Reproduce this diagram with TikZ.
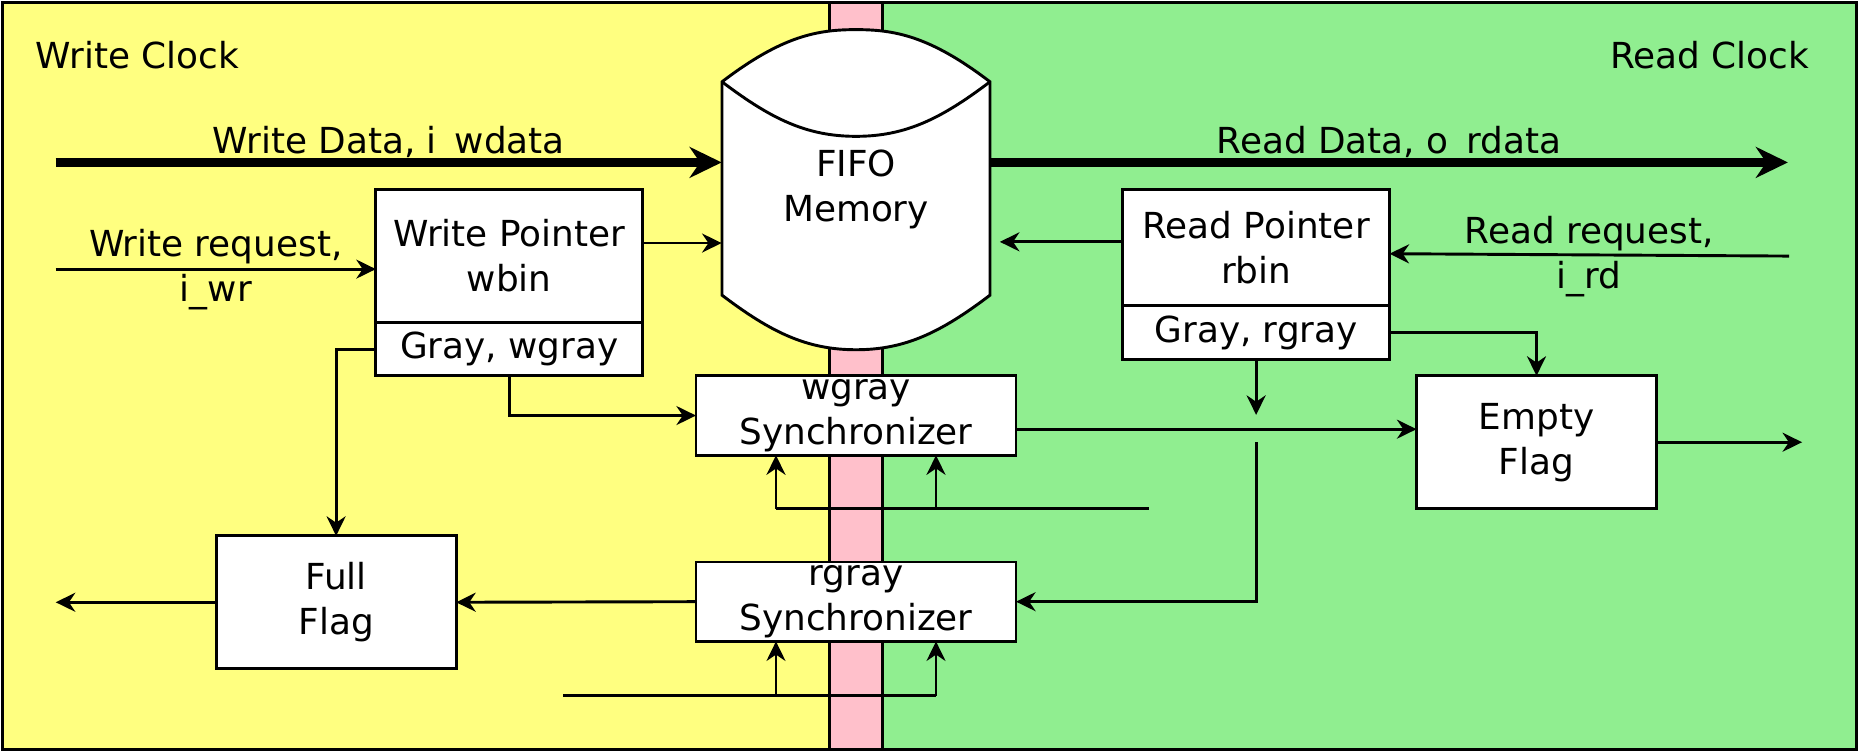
\documentclass[tikz,border=0pt]{standalone}
\usepackage{fontspec}
\setmainfont{DejaVu Sans}
\usetikzlibrary{arrows.meta,calc,positioning}
\definecolor{WriteYellow}{HTML}{FFFF80}
\definecolor{ReadGreen}{HTML}{90EE90}
\definecolor{CrossPink}{HTML}{FFC0CB}
\tikzset{
  domainedge/.style={draw=black,line width=1.4pt},
  blockbox/.style={draw=black,fill=white,line width=1.4pt,align=center,inner sep=0pt,outer sep=0pt,minimum width=4.5cm},
  syncbox/.style={blockbox,minimum width=5.4cm,minimum height=1.34cm},
  flagbox/.style={blockbox,minimum width=4.05cm,minimum height=2.24cm},
  plainlabel/.style={inner sep=0pt},
  buslabel/.style={anchor=base,inner sep=0pt},
  wire/.style={line width=1.4pt},
  sig/.style={line width=1.4pt,-{Stealth[length=0.33cm,width=0.32cm]}},
  databus/.style={line width=4.2pt,-{Stealth[length=0.54cm,width=0.52cm]}}
}
\begin{document}
\begin{tikzpicture}[x=0.02cm,y=-0.02cm,every node/.style={font=\fontsize{17.2pt}{21.6pt}\selectfont}]
  \useasboundingbox (0,0) rectangle (1568,634);
  % clock domains
  \fill[WriteYellow] (2,2) rectangle (700,632);
  \fill[ReadGreen] (744,2) rectangle (1566,632);
  \draw[domainedge,fill=CrossPink] (700,2) rectangle (744,632);
  \draw[domainedge] (2,2) rectangle (1566,632);
  \node[plainlabel,anchor=base west] (wclk) at (30,57.6) {Write Clock};
  \node[plainlabel,anchor=base east] (rclk) at (1526,57.6) {Read Clock};

  % memory
  \draw[line width=1.4pt,fill=white] (609,69) .. controls (660,30) and (690,25) .. (722,25)
    .. controls (754,25) and (784,30) .. (835,69) -- (835,249)
    .. controls (794,280) and (764,295) .. (722,295)
    .. controls (680,295) and (650,280) .. (609,249) -- cycle;
  \draw[line width=1.4pt] (609,69) .. controls (650,100) and (680,115) .. (722,115)
    .. controls (764,115) and (794,100) .. (835,69);
  \node[plainlabel,minimum width=4.52cm,minimum height=5.4cm,align=center] (fifo) at (722,160) {FIFO\\Memory};

  % blocks
  \node[blockbox,minimum height=2.24cm] (wptr) at (429.5,216) {Write Pointer\\wbin};
  \node[blockbox,minimum height=0.9cm,below=0pt of wptr] (wgray) {Gray, wgray};
  \node[blockbox,minimum height=1.96cm] (rptr) at (1059.5,209) {Read Pointer\\rbin};
  \node[blockbox,minimum height=0.9cm,below=0pt of rptr] (rgray) {Gray, rgray};
  \node[syncbox] (wsync) at (722,350.5) {wgray\\Synchronizer};
  \node[syncbox] (rsync) at (722,507.5) {rgray\\Synchronizer};
  \node[flagbox] (full) at (283.5,508) {Full\\Flag};
  \node[flagbox] (empty) at (1296,373) {Empty\\Flag};

  % free ends
  \coordinate (wdin) at (47,137);
  \coordinate (rdout) at (1508,137);
  \coordinate (wreqin) at (47,227);
  \coordinate (rreqin) at (1509,216);
  \coordinate (fullout) at (47,508);
  \coordinate (emptyout) at (1520,373);
  \coordinate (rgraytap) at (1059.5,350);
  \coordinate (rgrayfeed) at (1059.5,373);
  \coordinate (wsyncclk) at (969,429);
  \coordinate (rsyncclk) at (475,587);
  \coordinate (wsynca) at ($(wsync.south west)!0.25!(wsync.south east)$);
  \coordinate (wsyncb) at ($(wsync.south west)!0.75!(wsync.south east)$);
  \coordinate (rsynca) at ($(rsync.south west)!0.25!(rsync.south east)$);
  \coordinate (rsyncb) at ($(rsync.south west)!0.75!(rsync.south east)$);

  % data paths
  \draw[databus] (wdin) -- (wdin -| fifo.west)
    node[buslabel,midway,yshift=4.5pt] (wdatalbl) {Write Data, i\_wdata};
  \draw[databus] (fifo.east |- rdout) -- (rdout)
    node[buslabel,midway,yshift=4.5pt] (rdatalbl) {Read Data, o\_rdata};

  % write side
  \draw[sig] (wreqin) -- (wptr.west |- wreqin)
    node[buslabel,midway,yshift=6pt] (wreqlbl) {Write request,}
    node[buslabel,midway,yshift=-15.6pt] (wreqsig) {i\_wr};
  \draw[sig] (wptr.east |- 0,205) -- (fifo.west |- 0,205);
  \draw[sig] (wgray.south) |- (wsync.west);
  \draw[sig] (wgray.west) -| (full.north);
  \draw[sig] (rsync.west) -- (full.east);
  \draw[sig] (full.west) -- (fullout);

  % read side
  \draw[sig] (rreqin) -- (rptr.east |- 0,214)
    node[buslabel,midway,yshift=5.7pt] (rreqlbl) {Read request,}
    node[buslabel,midway,yshift=-15.9pt] (rreqsig) {i\_rd};
  \draw[sig,shorten >=0.16cm] (rptr.west |- 0,204) -- (fifo.east |- 0,204);
  \draw[sig] (rgray.east) -| (empty.north);
  \draw[sig] (rgray.south) -- (rgraytap);
  \draw[sig] (rgrayfeed) |- (rsync.east);
  \draw[sig] (wsync.east |- 0,362) -- (empty.west |- 0,362);
  \draw[sig] (empty.east) -- (emptyout);

  % synchronizer clocks
  \draw[wire] (wsyncclk) -- (wsynca |- wsyncclk);
  \draw[sig] (wsynca |- wsyncclk) -- (wsynca);
  \draw[sig] (wsyncb |- wsyncclk) -- (wsyncb);
  \draw[wire] (rsyncclk) -- (rsyncb |- rsyncclk);
  \draw[sig] (rsynca |- rsyncclk) -- (rsynca);
  \draw[sig] (rsyncb |- rsyncclk) -- (rsyncb);
\end{tikzpicture}
\end{document}
